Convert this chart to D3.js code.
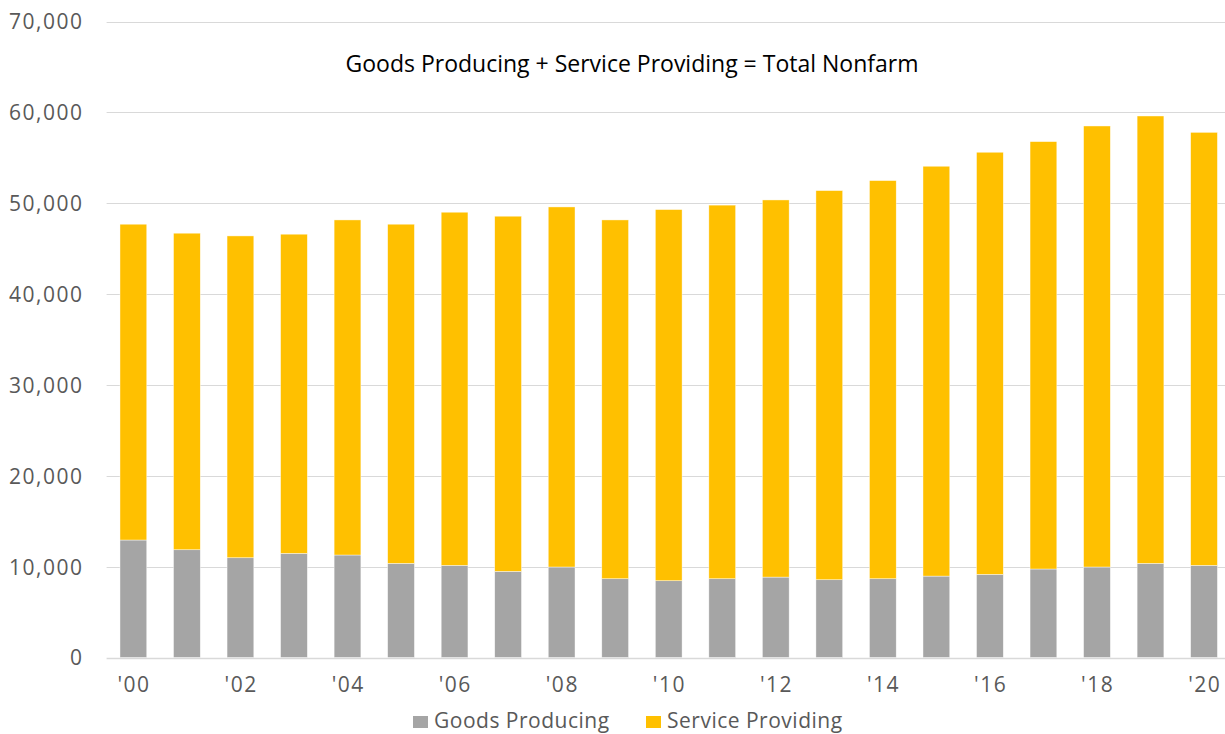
<!DOCTYPE html>
<html>
<head>
<meta charset="utf-8">
<script src="https://cdn.jsdelivr.net/npm/d3@7"></script>
<style>
  html, body { margin: 0; padding: 0; background: #fff; }
  svg { display: block; font-family: "Open Sans", "Noto Sans", sans-serif; }
</style>
</head>
<body>
<svg id="chart" width="1225" height="734"></svg>
<script>
const years = ["'00","'01","'02","'03","'04","'05","'06","'07","'08","'09","'10",
               "'11","'12","'13","'14","'15","'16","'17","'18","'19","'20"];
const tickLabels = ["'00","'02","'04","'06","'08","'10","'12","'14","'16","'18","'20"];
const goodsProducing = [12930, 11860, 10980, 11460, 11280, 10360, 10140, 9480, 9960, 8670, 8450,
                        8670, 8850, 8560, 8670, 8960, 9150, 9740, 9960, 10360, 10140];
const totalNonfarm = [47690, 46700, 46400, 46590, 48160, 47690, 49010, 48570, 49590, 48160, 49300,
                      49790, 50360, 51390, 52490, 54070, 55610, 56780, 58500, 59600, 57800];
const serviceProviding = totalNonfarm.map((t, i) => t - goodsProducing[i]);
const yTicks = [0, 10000, 20000, 30000, 40000, 50000, 60000, 70000];
const seriesNames = ["Goods Producing", "Service Providing"];
const seriesColors = ["#a5a5a5", "#ffc000"];
const title = "Goods Producing + Service Providing = Total Nonfarm";

const svg = d3.select("#chart");

const x = d3.scaleBand().domain(years).range([106.6, 1230.8]).paddingInner(0.5).paddingOuter(0.25);
const y = d3.scaleLinear().domain([0, 70000]).range([657.5, 21.5]);

// gridlines
svg.append("g").selectAll("line").data(yTicks).join("line")
  .attr("x1", 106.6).attr("x2", 1225)
  .attr("y1", d => Math.round(y(d)) + 0.5).attr("y2", d => Math.round(y(d)) + 0.5)
  .attr("stroke", "#d9d9d9").attr("stroke-width", d => d === 0 ? 1.5 : 1);

// y axis labels
const yAxis = d3.axisLeft(y).tickValues(yTicks).tickFormat(d3.format(",")).tickSize(0).tickPadding(0);
const yg = svg.append("g").attr("transform", "translate(83.5,0)").call(yAxis);
yg.select(".domain").remove();
yg.selectAll("text").attr("font-size", 21).attr("fill", "#595959").attr("letter-spacing", 1.5)
  .attr("font-family", "'Open Sans', sans-serif").attr("dy", "0.35em");

// stacked data
const table = years.map((yr, i) => ({year: yr, goods: goodsProducing[i], service: serviceProviding[i]}));
const stack = d3.stack().keys(["goods", "service"]);
const layers = stack(table);

svg.append("g").selectAll("g").data(layers).join("g")
  .attr("fill", (d, i) => seriesColors[i])
  .selectAll("rect").data(d => d).join("rect")
  .attr("x", d => x(d.data.year))
  .attr("width", x.bandwidth())
  .attr("y", d => y(d[1]))
  .attr("height", d => y(d[0]) - y(d[1]))
  .attr("stroke", "#ffffff").attr("stroke-width", 0.6).attr("stroke-opacity", 0.7);

// x axis labels
const xAxis = d3.axisBottom(x).tickValues(tickLabels).tickSize(0).tickPadding(0);
const xg = svg.append("g").attr("transform", "translate(0.7,692)").call(xAxis);
xg.select(".domain").remove();
xg.selectAll("text").attr("font-size", 21).attr("fill", "#595959").attr("letter-spacing", 1.5)
  .attr("font-family", "'Open Sans', sans-serif").attr("dy", 0);

// title
svg.append("text").attr("x", 632).attr("y", 72).attr("text-anchor", "middle")
  .attr("font-size", 23).attr("fill", "#000").text(title);

// legend
const legendX = [413, 646];
const lg = svg.append("g").selectAll("g").data(seriesNames).join("g")
  .attr("transform", (d, i) => `translate(${legendX[i]},716)`);
lg.append("rect").attr("width", 15).attr("height", 12).attr("fill", (d, i) => seriesColors[i]);
lg.append("text").attr("x", 21).attr("y", 12).attr("font-size", 21).attr("letter-spacing", 0.5)
  .attr("fill", "#595959").text(d => d);
</script>
</body>
</html>
